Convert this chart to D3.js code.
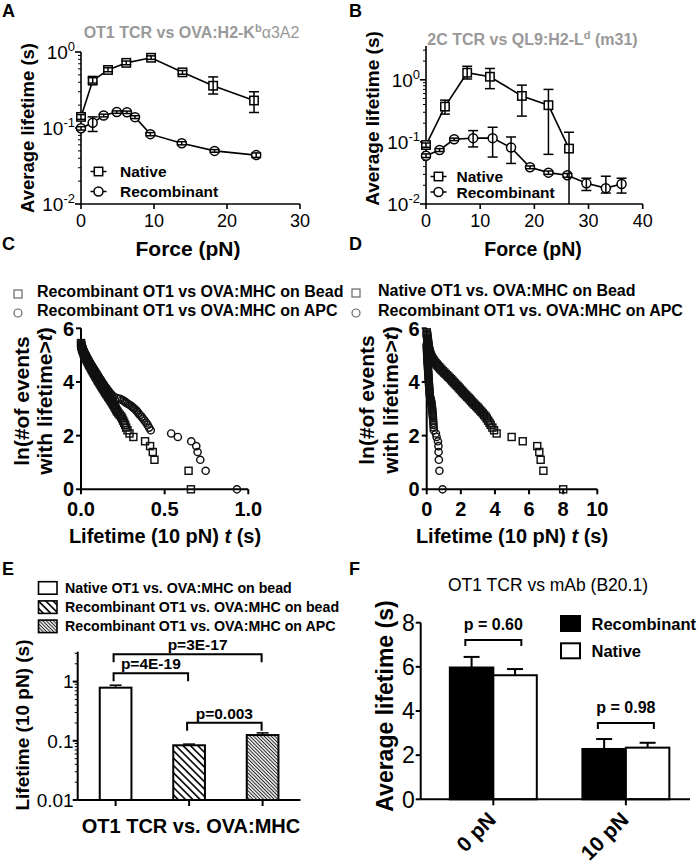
<!DOCTYPE html>
<html>
<head>
<meta charset="utf-8">
<script src="https://cdn.jsdelivr.net/npm/d3@7/dist/d3.min.js"></script>
<style>
html,body{margin:0;padding:0;background:#fff;}
svg{display:block;}
</style>
</head>
<body>
<svg id="fig" width="700" height="865"></svg>
<script>
// ================= DATA =================
// Panel A : OT1 TCR vs OVA:H2-Kb a3A2
const aNativeForce = [0, 1.6, 3.7, 6.2, 9.6, 13.9, 18.1, 23.7];
const aNativeLife  = [0.14, 0.42, 0.58, 0.72, 0.84, 0.54, 0.36, 0.23];
const aNativeHi    = [0.15, 0.46, 0.62, 0.76, 0.89, 0.57, 0.47, 0.30];
const aNativeLo    = [0.13, 0.39, 0.55, 0.68, 0.80, 0.51, 0.28, 0.16];
const aRecForce = [0, 1.6, 3.1, 4.9, 6.3, 7.4, 9.5, 13.8, 18.3, 24.0];
const aRecLife  = [0.099, 0.117, 0.146, 0.162, 0.161, 0.139, 0.083, 0.063, 0.050, 0.044];
const aRecHi    = [0.104, 0.140, 0.152, 0.168, 0.167, 0.145, 0.087, 0.066, 0.052, 0.047];
const aRecLo    = [0.094, 0.090, 0.140, 0.156, 0.155, 0.133, 0.079, 0.060, 0.048, 0.041];
const aXTicks = [0, 10, 20, 30];

// Panel B : 2C TCR vs QL9:H2-Ld (m31)
const bNativeForce = [0, 3.5, 7.6, 11.8, 17.7, 22.6, 26.4];
const bNativeLife  = [0.089, 0.37, 1.3, 1.12, 0.55, 0.39, 0.078];
const bNativeHi    = [0.096, 0.47, 1.65, 1.52, 0.82, 0.70, 0.143];
const bNativeLo    = [0.082, 0.28, 1.03, 0.72, 0.26, 0.063, 0.001];
const bRecForce = [0, 2.5, 5.2, 8.7, 12.3, 15.7, 19.2, 22.6, 26.1, 29.6, 33.2, 36.1];
const bRecLife  = [0.060, 0.074, 0.110, 0.115, 0.115, 0.081, 0.039, 0.032, 0.029, 0.0215, 0.018, 0.021];
const bRecHi    = [0.064, 0.078, 0.115, 0.152, 0.172, 0.120, 0.041, 0.034, 0.031, 0.026, 0.028, 0.026];
const bRecLo    = [0.056, 0.070, 0.105, 0.083, 0.057, 0.045, 0.037, 0.030, 0.027, 0.0165, 0.015, 0.015];
const bXTicks = [0, 10, 20, 30, 40];

// Panel C/D : ln(# of events with lifetime > t) vs t
const recBeadT = [0.000,0.001,0.002,0.004,0.006,0.008,0.011,0.014,0.017,0.020,
  0.024,0.028,0.032,0.036,0.040,0.044,0.048,0.052,0.057,0.061,
  0.066,0.070,0.075,0.079,0.084,0.088,0.093,0.098,0.102,0.107,
  0.112,0.117,0.122,0.127,0.132,0.137,0.142,0.147,0.152,0.158,
  0.163,0.168,0.174,0.179,0.184,0.189,0.194,0.199,0.203,0.208,
  0.212,0.218,0.224,0.232,0.240,0.246,0.252,0.258,0.264,0.270,
  0.278,0.290,0.313,0.383,0.413,0.429,0.439,0.643,0.657];
const recBeadLn = [5.45,5.40,5.35,5.30,5.25,5.20,5.15,5.10,5.05,5.00,
  4.95,4.90,4.85,4.80,4.75,4.70,4.65,4.60,4.55,4.50,
  4.45,4.40,4.35,4.30,4.25,4.20,4.15,4.10,4.05,4.00,
  3.95,3.90,3.85,3.80,3.75,3.70,3.65,3.60,3.55,3.50,
  3.45,3.40,3.35,3.30,3.25,3.20,3.15,3.10,3.05,3.00,
  2.94,2.89,2.83,2.77,2.71,2.64,2.56,2.48,2.40,2.30,
  2.20,2.08,1.95,1.79,1.61,1.39,1.10,0.69,0];

const recApcT = [0.002,0.005,0.008,0.011,0.014,0.018,0.022,0.026,0.030,0.034,
  0.038,0.043,0.047,0.052,0.056,0.061,0.066,0.071,0.076,0.081,
  0.086,0.091,0.096,0.101,0.106,0.111,0.116,0.121,0.126,0.131,
  0.137,0.142,0.148,0.154,0.160,0.166,0.172,0.179,0.186,0.197,
  0.215,0.232,0.245,0.255,0.263,0.272,0.282,0.292,0.303,0.312,
  0.320,0.330,0.337,0.344,0.352,0.362,0.370,0.380,0.390,0.398,
  0.407,0.417,0.539,0.579,0.659,0.689,0.697,0.713,0.745,0.932];
const recApcLn = [5.40,5.35,5.30,5.25,5.20,5.15,5.10,5.05,5.00,4.95,
  4.90,4.85,4.80,4.75,4.70,4.65,4.60,4.55,4.50,4.45,
  4.40,4.35,4.30,4.25,4.20,4.15,4.10,4.05,4.00,3.95,
  3.90,3.85,3.80,3.75,3.70,3.65,3.60,3.55,3.50,3.45,
  3.40,3.37,3.33,3.30,3.26,3.22,3.18,3.14,3.09,3.04,
  3.00,2.94,2.89,2.83,2.77,2.71,2.64,2.56,2.48,2.40,
  2.30,2.20,2.08,1.95,1.79,1.61,1.39,1.10,0.69,0];

const natBeadT = [0.00,0.01,0.02,0.03,0.04,0.05,0.06,0.07,0.08,0.09,
  0.10,0.11,0.12,0.14,0.16,0.18,0.20,0.23,0.26,0.30,
  0.35,0.40,0.46,0.52,0.59,0.66,0.73,0.80,0.87,0.95,
  1.03,1.11,1.19,1.27,1.35,1.43,1.50,1.57,1.64,1.72,
  1.80,1.87,1.94,2.01,2.08,2.15,2.22,2.30,2.38,2.46,
  2.53,2.60,2.67,2.74,2.82,2.90,2.98,3.05,
  3.13,3.21,3.29,3.37,3.45,3.52,3.60,3.68,3.75,3.85,
  3.95,4.10,4.98,5.63,6.48,6.60,6.68,6.84,8.00];
const natBeadLn = [5.85,5.80,5.75,5.70,5.65,5.60,5.55,5.50,5.45,5.40,
  5.35,5.30,5.25,5.20,5.15,5.10,5.05,5.00,4.95,4.90,
  4.85,4.80,4.75,4.70,4.65,4.60,4.55,4.50,4.45,4.40,
  4.35,4.30,4.25,4.20,4.15,4.10,4.05,4.00,3.95,3.90,
  3.85,3.80,3.75,3.70,3.65,3.60,3.55,3.50,3.45,3.40,
  3.35,3.30,3.25,3.20,3.15,3.10,3.05,3.00,
  2.94,2.89,2.83,2.77,2.71,2.64,2.56,2.48,2.40,2.30,
  2.20,2.08,1.95,1.79,1.61,1.39,1.10,0.69,0];
const cXTicks = [0, 0.5, 1.0];
const dXTicks = [0, 2, 4, 6, 8, 10];
const survYTicks = [0, 2, 4, 6];

// Panel E
const eCats = ["Native OT1 vs. OVA:MHC on bead", "Recombinant OT1 vs. OVA:MHC on bead", "Recombinant OT1 vs. OVA:MHC on APC"];
const eValues = [0.79, 0.084, 0.125];
const eErr = [0.08, 0.004, 0.011];
const ePLabels = ["p=3E-17", "p=4E-19", "p=0.003"];
const ePairs = [[0, 2], [0, 1], [1, 2]];
const ePLevels = [2.9, 1.38, 0.202];

// Panel F
const fGroups = ["0 pN", "10 pN"];
const fSeries = ["Recombinant", "Native"];
const fRecomb = [5.97, 2.28];
const fNative = [5.62, 2.34];
const fRecombErr = [0.48, 0.45];
const fNativeErr = [0.28, 0.22];
const fPLabels = ["p = 0.60", "p = 0.98"];
const fYTicks = [0, 2, 4, 6, 8];

// ================= DRAWING =================
const FF = "'Liberation Sans', Arial, Helvetica, sans-serif";
const svg = d3.select("#fig").style("font-family", FF);
svg.append("rect").attr("width", 700).attr("height", 865).attr("fill", "#fff");

function T(x, y, size, weight, anchor, fill) {
  return svg.append("text").attr("x", x).attr("y", y).attr("font-size", size)
    .attr("font-weight", weight || "normal").attr("text-anchor", anchor || "start")
    .attr("fill", fill || "#000");
}
function L(x1, y1, x2, y2, w, c) {
  return svg.append("line").attr("x1", x1).attr("y1", y1).attr("x2", x2).attr("y2", y2)
    .attr("stroke", c || "#000").attr("stroke-width", w || 1.5).attr("stroke-linecap", "butt");
}
function rotText(x, y, size, str) {
  return svg.append("text").attr("transform", `translate(${x},${y}) rotate(-90)`)
    .attr("font-size", size).attr("font-weight", "bold").attr("text-anchor", "middle").text(str);
}
function logTicks(lo, hi) {
  const major = [], minor = [];
  const k0 = Math.floor(Math.log10(lo) + 1e-9), k1 = Math.ceil(Math.log10(hi) - 1e-9);
  for (let k = k0; k <= k1; k++) {
    const b = Math.pow(10, k);
    if (b >= lo * 0.999 && b <= hi * 1.001) major.push(b);
    for (let m = 2; m < 10; m++) { const v = m * b; if (v > lo * 1.001 && v < hi * 0.999) minor.push(v); }
  }
  return { major, minor };
}

// panel letters
[["A", 2, 17], ["B", 349, 17], ["C", 2, 250], ["D", 349, 250], ["E", 2, 575], ["F", 349, 575]]
  .forEach(([s, x, y]) => T(x, y, 18, "bold").text(s));

// ---------- Force panels (A, B) ----------
function forcePanel(cfg) {
  const { x, y, xTicks, series } = cfg;
  const x0 = x.range()[0], y0 = y.range()[0], yTop = y.range()[1];
  L(x0, yTop, x0, y0, 1.6);
  L(x0, y0, x.range()[1], y0, 1.6);
  const { major, minor } = logTicks(...y.domain());
  minor.forEach(v => L(x0 - 3, y(v), x0, y(v), 1));
  major.forEach(v => {
    L(x0 - 6, y(v), x0, y(v), 1.6);
    const t = T(x0 - 6, y(v), 19, "normal", "end");
    t.append("tspan").attr("dy", "0.36em").text("10");
    t.append("tspan").attr("dy", "-0.62em").attr("font-size", 13).text(Math.round(Math.log10(v)));
  });
  xTicks.forEach(v => {
    L(x(v), y0, x(v), y0 + 5, 1.6);
    T(x(v), y0 + 23, 18, "normal", "middle").text(v);
  });
  const g = svg.append("g");
  series.forEach(s => {
    const pts = s.x.map((d, i) => ({ x: d, y: s.y[i], lo: s.lo[i], hi: s.hi[i] }));
    g.append("path").datum(pts).attr("fill", "none").attr("stroke", "#000").attr("stroke-width", 1.6)
      .attr("d", d3.line().x(d => x(d.x)).y(d => y(d.y)));
    pts.forEach(p => {
      const px = x(p.x);
      L(px, y(p.lo), px, y(p.hi), 1.5);
      L(px - 5, y(p.hi), px + 5, y(p.hi), 1.5);
      if (y(p.lo) < y0 - 0.5) L(px - 5, y(p.lo), px + 5, y(p.lo), 1.5);
    });
  });
  series.forEach(s => {
    const pts = s.x.map((d, i) => ({ x: d, y: s.y[i] }));
    if (s.shape === "square") {
      g.selectAll(null).data(pts).enter().append("rect")
        .attr("x", d => x(d.x) - 4.2).attr("y", d => y(d.y) - 4.2).attr("width", 8.4).attr("height", 8.4)
        .attr("fill", "#fff").attr("stroke", "#000").attr("stroke-width", 1.5);
    } else {
      g.selectAll(null).data(pts).enter().append("circle")
        .attr("cx", d => x(d.x)).attr("cy", d => y(d.y)).attr("r", 4.5)
        .attr("fill", "#fff").attr("stroke", "#000").attr("stroke-width", 1.5);
    }
  });
  const lg = cfg.legend;
  [["square", "Native", lg.y1], ["circle", "Recombinant", lg.y2]].forEach(([shape, label, ly]) => {
    L(lg.x - 8, ly, lg.x + 8, ly, 1.5);
    if (shape === "square") svg.append("rect").attr("x", lg.x - 4.2).attr("y", ly - 4.2).attr("width", 8.4).attr("height", 8.4)
      .attr("fill", "#fff").attr("stroke", "#000").attr("stroke-width", 1.5);
    else svg.append("circle").attr("cx", lg.x).attr("cy", ly).attr("r", 4.5).attr("fill", "#fff").attr("stroke", "#000").attr("stroke-width", 1.5);
    T(lg.tx, ly + 5.5, 15.5, "bold").text(label);
  });
}

const xA = d3.scaleLinear().domain([0, 30]).range([81, 300]);
const yA = d3.scaleLog().domain([0.01, 1]).range([204, 52]);
forcePanel({
  x: xA, y: yA, xTicks: aXTicks,
  series: [
    { x: aNativeForce, y: aNativeLife, lo: aNativeLo, hi: aNativeHi, shape: "square" },
    { x: aRecForce, y: aRecLife, lo: aRecLo, hi: aRecHi, shape: "circle" }
  ],
  legend: { x: 98.5, tx: 120, y1: 171.5, y2: 191.5 }
});
rotText(33.5, 128, 18.5, "Average lifetime (s)");
T(188, 255.5, 21, "bold", "middle").text("Force (pN)");
{
  const t = T(191.5, 38, 16, "bold", "middle", "#999");
  t.append("tspan").text("OT1 TCR vs OVA:H2-K");
  t.append("tspan").attr("dy", -6).attr("font-size", 11).text("b");
  t.append("tspan").attr("dy", 6).attr("font-weight", "normal").text("α3A2");
}

const xB = d3.scaleLinear().domain([0, 40]).range([426, 642.7]);
const yB = d3.scaleLog().domain([0.01, 3.5]).range([204, 46]).clamp(true);
forcePanel({
  x: xB, y: yB, xTicks: bXTicks,
  series: [
    { x: bNativeForce, y: bNativeLife, lo: bNativeLo, hi: bNativeHi, shape: "square" },
    { x: bRecForce, y: bRecLife, lo: bRecLo, hi: bRecHi, shape: "circle" }
  ],
  legend: { x: 438.5, tx: 456.5, y1: 176.5, y2: 192 }
});
rotText(378.5, 118.5, 19, "Average lifetime (s)");
T(533, 255.5, 19.5, "bold", "middle").text("Force (pN)");
{
  const t = T(532.5, 44.5, 16, "bold", "middle", "#999");
  t.append("tspan").text("2C TCR vs QL9:H2-L");
  t.append("tspan").attr("dy", -6).attr("font-size", 11).text("d");
  t.append("tspan").attr("dy", 6).text(" (m31)");
}

// ---------- Survival panels (C, D) ----------
function survPanel(cfg) {
  const { x, y, xTicks, fmt, series } = cfg;
  const x0 = x.range()[0], y0 = y.range()[0];
  L(x0, y.range()[1], x0, y0, 2);
  L(x0, y0, x.range()[1], y0, 2);
  survYTicks.forEach(v => {
    L(x0 - 5, y(v), x0, y(v), 2);
    T(x0 - 7, y(v) - (v === 0 ? 1 : 0), 20, "bold", "end").attr("dy", "0.36em").text(v);
  });
  xTicks.forEach(v => {
    L(x(v), y0, x(v), y0 + 5, 2);
    T(x(v), y0 + 26.5, 20, "bold", "middle").text(fmt(v));
  });
  series.forEach(s => {
    const pts = s.t.map((d, i) => ({ t: d, v: s.ln[i] }));
    if (s.shape === "square") {
      svg.append("g").selectAll("rect").data(pts).enter().append("rect")
        .attr("x", d => x(d.t) - 3.5).attr("y", d => y(d.v) - 3.5).attr("width", 7).attr("height", 7)
        .attr("fill", "none").attr("stroke", "#111").attr("stroke-width", 1.45);
    } else {
      svg.append("g").selectAll("circle").data(pts).enter().append("circle")
        .attr("cx", d => x(d.t)).attr("cy", d => y(d.v)).attr("r", 3.6)
        .attr("fill", "none").attr("stroke", "#111").attr("stroke-width", 1.45);
    }
  });
  const lg = cfg.legend;
  svg.append("rect").attr("x", lg.x - 4).attr("y", lg.y1 - 5.5).attr("width", 8).attr("height", 8)
    .attr("fill", "none").attr("stroke", "#666").attr("stroke-width", 1.2);
  svg.append("circle").attr("cx", lg.x).attr("cy", lg.y2 - 1.5).attr("r", 4)
    .attr("fill", "none").attr("stroke", "#666").attr("stroke-width", 1.2);
  T(lg.tx, lg.y1 + 1, 16, "bold").text(lg.l1);
  T(lg.tx, lg.y2 + 1, 16, "bold").text(lg.l2);
  svg.append("text").attr("transform", `translate(${cfg.ylx1},${cfg.yly}) rotate(-90)`)
    .attr("font-size", 21).attr("font-weight", "bold").attr("text-anchor", "middle").text("ln(#of events");
  const t2 = svg.append("text").attr("transform", `translate(${cfg.ylx2},${cfg.yly}) rotate(-90)`)
    .attr("font-size", 21).attr("font-weight", "bold").attr("text-anchor", "middle");
  t2.append("tspan").text("with lifetime>");
  t2.append("tspan").attr("font-style", "italic").text("t");
  t2.append("tspan").text(")");
  const xl = T(cfg.xlx, 542.5, 20, "bold", "middle");
  xl.append("tspan").text("Lifetime (10 pN) ");
  xl.append("tspan").attr("font-style", "italic").text("t");
  xl.append("tspan").text(" (s)");
}

const xC = d3.scaleLinear().domain([0, 1]).range([81, 248.3]);
const yC = d3.scaleLinear().domain([0, 6]).range([489.3, 328.3]);
survPanel({
  x: xC, y: yC, xTicks: cXTicks, fmt: d3.format(".1f"),
  series: [
    { t: recBeadT, ln: recBeadLn, shape: "square" },
    { t: recApcT, ln: recApcLn, shape: "circle" }
  ],
  legend: { x: 18, tx: 37, y1: 295.5, y2: 314.5,
    l1: "Recombinant OT1 vs OVA:MHC on Bead", l2: "Recombinant OT1 vs OVA:MHC on APC" },
  ylx1: 29, ylx2: 52, yly: 401, xlx: 165
});

const xD = d3.scaleLinear().domain([0, 10]).range([426.7, 597.3]);
const yD = d3.scaleLinear().domain([0, 6]).range([489.3, 328.3]);
survPanel({
  x: xD, y: yD, xTicks: dXTicks, fmt: d => d,
  series: [
    { t: natBeadT, ln: natBeadLn, shape: "square" },
    { t: recApcT, ln: recApcLn, shape: "circle" }
  ],
  legend: { x: 356, tx: 378, y1: 294.5, y2: 314.5,
    l1: "Native OT1 vs. OVA:MHC on Bead", l2: "Recombinant OT1 vs. OVA:MHC on APC" },
  ylx1: 374, ylx2: 398, yly: 400, xlx: 512
});

// ---------- Panel E ----------
const defs = svg.append("defs");
const pw = defs.append("pattern").attr("id", "hatchWide").attr("patternUnits", "userSpaceOnUse")
  .attr("width", 5.2).attr("height", 5.2).attr("patternTransform", "rotate(-45)");
pw.append("rect").attr("width", 5.2).attr("height", 5.2).attr("fill", "#fff");
pw.append("line").attr("x1", 2.6).attr("y1", 0).attr("x2", 2.6).attr("y2", 5.2).attr("stroke", "#000").attr("stroke-width", 1.6);
const pf = defs.append("pattern").attr("id", "hatchFine").attr("patternUnits", "userSpaceOnUse")
  .attr("width", 2.5).attr("height", 2.5).attr("patternTransform", "rotate(-45)");
pf.append("rect").attr("width", 2.5).attr("height", 2.5).attr("fill", "#fff");
pf.append("line").attr("x1", 1.25).attr("y1", 0).attr("x2", 1.25).attr("y2", 2.5).attr("stroke", "#222").attr("stroke-width", 1.05);
const eFills = ["#fff", "url(#hatchWide)", "url(#hatchFine)"];

const xE = d3.scaleBand().domain(eCats).range([77.7, 300.5]).paddingInner(0.569).paddingOuter(0.30);
const yE = d3.scaleLog().domain([0.01, 3.2]).range([800, 651.7]);
{
  const x0 = 77.7, y0 = 800;
  const { major, minor } = logTicks(...yE.domain());
  minor.forEach(v => L(x0 - 3, yE(v), x0, yE(v), 1));
  major.forEach(v => {
    L(x0 - 5, yE(v), x0, yE(v), 2);
    T(x0 - 4, yE(v), 19, "normal", "end").attr("dy", "0.36em").text(d3.format("~g")(v));
  });
  eCats.forEach((c, i) => {
    const bx = xE(c), bw = xE.bandwidth();
    svg.append("rect").attr("x", bx).attr("y", yE(eValues[i])).attr("width", bw)
      .attr("height", y0 - yE(eValues[i])).attr("fill", eFills[i]).attr("stroke", "#000").attr("stroke-width", 2);
    const cx = bx + bw / 2, yt = yE(eValues[i] + eErr[i]);
    L(cx, yE(eValues[i]), cx, yt, 1.5);
    L(cx - 6, yt, cx + 6, yt, 1.5);
    L(cx, y0, cx, y0 + 6, 2);
  });
  L(x0, yE.range()[1], x0, y0, 2);
  L(x0, y0, 300.5, y0, 2);
  ePairs.forEach(([a, b], i) => {
    const xa = xE(eCats[a]) + xE.bandwidth() / 2 - 2, xb = xE(eCats[b]) + xE.bandwidth() / 2 - 1;
    const yy = yE(ePLevels[i]);
    svg.append("path").attr("d", `M${xa},${yy + 8}V${yy}H${xb}V${yy + 8}`)
      .attr("fill", "none").attr("stroke", "#000").attr("stroke-width", 2);
    T((xa + xb) / 2 + (i === 0 ? 10 : 0), yy - 4, 15.5, "bold", "middle").text(ePLabels[i]);
  });
  eCats.forEach((c, i) => {
    const ly = 581.7 + i * 19.2;
    svg.append("rect").attr("x", 38.5).attr("y", ly).attr("width", 18.5).attr("height", 12.5)
      .attr("fill", eFills[i]).attr("stroke", "#000").attr("stroke-width", 1.6);
    T(65, ly + 11, 14.2, "bold").text(c);
  });
  rotText(28.5, 725, 19, "Lifetime (10 pN) (s)");
  T(191, 833, 20, "bold", "middle").text("OT1 TCR vs. OVA:MHC");
}

// ---------- Panel F ----------
const xF = d3.scaleBand().domain(fGroups).range([420.7, 698.5]).paddingInner(0.344).paddingOuter(0.22);
const xFs = d3.scaleBand().domain(fSeries).range([0, xF.bandwidth()]);
const yF = d3.scaleLinear().domain([0, 8]).range([799.3, 622.7]);
{
  const x0 = 420.7, y0 = 799.3;
  const vals = { Recombinant: fRecomb, Native: fNative };
  const errs = { Recombinant: fRecombErr, Native: fNativeErr };
  const fills = { Recombinant: "#000", Native: "#fff" };
  fGroups.forEach((g, gi) => {
    fSeries.forEach(s => {
      const bx = xF(g) + xFs(s), bw = xFs.bandwidth(), v = vals[s][gi];
      const cx = bx + bw / 2, yt = yF(v + errs[s][gi]);
      L(cx, yF(v), cx, yt, 2);
      L(cx - 8, yt, cx + 8, yt, 2);
      svg.append("rect").attr("x", bx).attr("y", yF(v)).attr("width", bw).attr("height", y0 - yF(v))
        .attr("fill", fills[s]).attr("stroke", "#000").attr("stroke-width", 2);
    });
    const gc = xF(g) + xF.bandwidth() / 2;
    L(gc, y0, gc, y0 + 6, 2);
    svg.append("text").attr("transform", `translate(${gc + 4},${821}) rotate(-45)`)
      .attr("font-size", 21).attr("font-weight", "bold").attr("text-anchor", "end").text(g);
    const top = yF(Math.max(fRecomb[gi] + fRecombErr[gi], fNative[gi] + fNativeErr[gi]));
    const by = top - (gi === 0 ? 17 : 16);
    svg.append("path").attr("d", `M${gc - 28},${by + 6}V${by}H${gc + 28}V${by + 6}`)
      .attr("fill", "none").attr("stroke", "#000").attr("stroke-width", 2);
    T(gc, by - 10, 16, "bold", "middle").text(fPLabels[gi]);
  });
  fYTicks.forEach(v => {
    L(x0 - 5, yF(v), x0, yF(v), 2);
    T(x0 - 6, yF(v), 23, "normal", "end").attr("dy", "0.36em").text(v);
  });
  L(x0, yF(8), x0, y0, 2);
  L(x0, y0, 690, y0, 2);
  fSeries.forEach((s, i) => {
    const ly = 616 + i * 27.3;
    svg.append("rect").attr("x", 561).attr("y", ly).attr("width", 19).attr("height", 15)
      .attr("fill", fills[s]).attr("stroke", "#000").attr("stroke-width", 2);
    T(591.5, ly + 14, 16.5, "bold").text(s);
  });
  rotText(393, 706, 23, "Average lifetime (s)");
  T(548, 591, 17.5, "normal", "middle").text("OT1 TCR vs mAb (B20.1)");
}
</script>
</body>
</html>
